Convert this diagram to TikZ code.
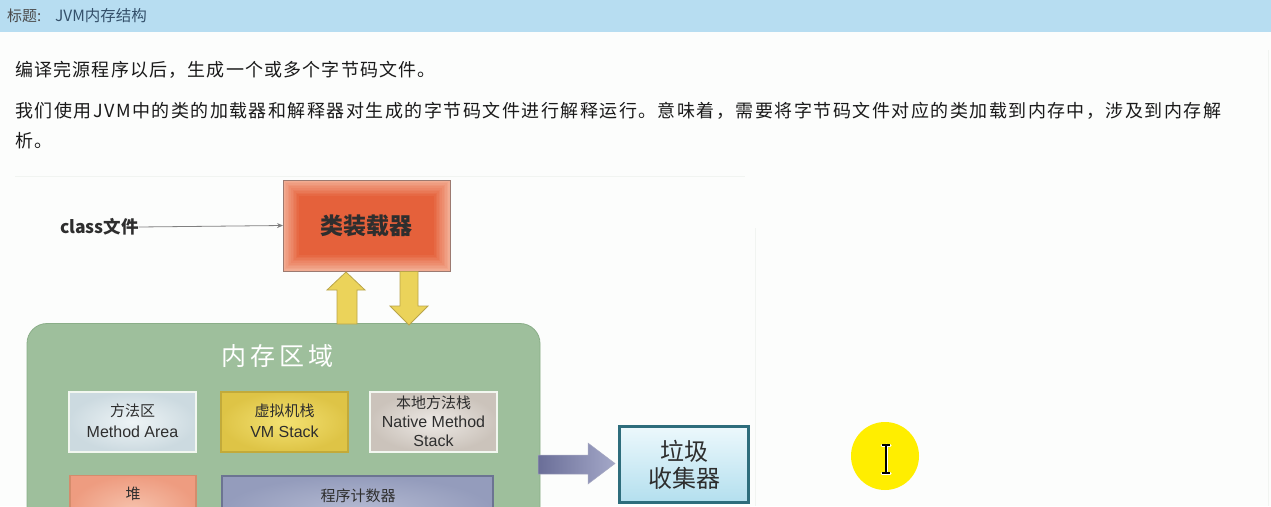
\documentclass[tikz,border=0pt]{standalone}
\usepackage{fontspec}
\setmainfont{Noto Sans CJK SC}
\newfontfamily\cjkbody[LetterSpace=6.5]{Noto Sans CJK SC}
\newfontfamily\cjkbodyb[LetterSpace=8.2]{Noto Sans CJK SC}
\newfontfamily\lat{Liberation Sans}
\usetikzlibrary{calc,arrows.meta}
\definecolor{pagebg}{HTML}{FCFDFC}
\definecolor{barbg}{HTML}{B7DDF1}
\definecolor{titlegray}{HTML}{4A4A4A}
\definecolor{titleblue}{HTML}{34506A}
\definecolor{bodytext}{HTML}{1A1A1A}
\definecolor{frameline}{HTML}{F1F4F1}
\definecolor{memgreen}{HTML}{9EBF9C}
\definecolor{memborder}{HTML}{8AAE88}
\definecolor{clin}{HTML}{E5613B}
\definecolor{clout}{HTML}{F2AC92}
\definecolor{clborder}{HTML}{9C7A70}
\definecolor{yarrow}{HTML}{EBD35A}
\definecolor{yarrowd}{HTML}{B9A54A}
\definecolor{main}{HTML}{EEF4F6}
\definecolor{maout}{HTML}{CCDAE0}
\definecolor{whiteb}{HTML}{F2F7F0}
\definecolor{vmin}{HTML}{F3E172}
\definecolor{vmout}{HTML}{DEC446}
\definecolor{vmborder}{HTML}{C2AA3A}
\definecolor{nmin}{HTML}{EDE9E5}
\definecolor{nmout}{HTML}{CBC3BB}
\definecolor{hpin}{HTML}{F6C2AC}
\definecolor{hpout}{HTML}{EE9C80}
\definecolor{hpborder}{HTML}{D48C6C}
\definecolor{pcin}{HTML}{B4BAD2}
\definecolor{pcout}{HTML}{949CBC}
\definecolor{pcborder}{HTML}{6C7492}
\definecolor{bigarrd}{HTML}{6A6E98}
\definecolor{bigarrl}{HTML}{A4A8C8}
\definecolor{gctop}{HTML}{ECF8FC}
\definecolor{gcbot}{HTML}{B3DFEE}
\definecolor{gcborder}{HTML}{2E6D7C}
\definecolor{curyellow}{HTML}{FFEE00}
\definecolor{dtext}{HTML}{2E2E2E}
\begin{document}
\begin{tikzpicture}[x=1pt,y=-1pt,
  inbox/.style={minimum width=127pt,minimum height=60pt,inner sep=0pt,outer sep=0pt,align=center,text=dtext},
  cjkl/.style={font=\fontsize{15}{18}\selectfont},
  latl/.style={font=\lat\fontsize{16}{18}\selectfont},
  bodyline/.style={anchor=west,inner sep=0pt,text=bodytext,font=\cjkbody\fontsize{18}{20}\selectfont}
]
\useasboundingbox (0,0) rectangle (1271,506);
\clip (0,0) rectangle (1271,506);
\fill[pagebg] (0,0) rectangle (1271,506);
% title bar
\fill[barbg] (0,0) rectangle (1271,32);
\node[anchor=west,inner sep=0pt,text=titlegray,font=\fontsize{15}{16}\selectfont] (ttl) at (7,16) {标题:};
\node[anchor=west,inner sep=0pt,text=titleblue,font=\fontsize{15.5}{16}\selectfont] (ttl2) at (55,16) {JVM内存结构};
% body text
\node[bodyline] (l1) at (15,70) {编译完源程序以后，生成一个或多个字节码文件。};
\node[bodyline,font=\cjkbodyb\fontsize{18}{20}\selectfont] (l2) at (15,111) {我们使用JVM中的类的加载器和解释器对生成的字节码文件进行解释运行。意味着，需要将字节码文件对应的类加载到内存中，涉及到内存解};
\node[bodyline] (l3) at (15,141) {析。};
% faint frame of the embedded image
\draw[frameline,line width=0.8pt] (15,176.5) -- (745,176.5);
\draw[frameline,line width=0.8pt] (755,228) -- (755,506);
\draw[frameline,line width=0.8pt] (1268,50) -- (1268,506);
% class file and class loader
\node[anchor=west,inner sep=0pt,outer sep=0pt,text=dtext,font=\bfseries\fontsize{17.5}{20}\selectfont] (cf) at (60,227) {class文件};
\node[fill=clout,minimum width=167pt,minimum height=91pt,inner sep=0pt,outer sep=0pt] (cl) at (366.5,225.5) {};
\foreach \i in {1,...,10} {
  \pgfmathsetmacro{\mixv}{\i*10}
  \fill[clin!\mixv!clout] ($(cl.north west)+(1.6*\i,1.6*\i)$) rectangle ($(cl.south east)+(-1.6*\i,-1.6*\i)$);
}
\draw[clborder,line width=0.8pt] (cl.north west) rectangle (cl.south east);
\node[inner sep=0pt,text=dtext,font=\bfseries\fontsize{23}{26}\selectfont] (clt) at (cl.center) {类装载器};
\draw[gray,line width=0.8pt,-{Stealth[length=6pt,width=5pt]}] (cf.east) -- (cl.west);
% memory area
\node[draw=memborder,line width=0.8pt,fill=memgreen,rounded corners=20pt,minimum width=513pt,minimum height=240pt,anchor=north west,inner sep=0pt,outer sep=0pt] (mem) at (27,323.5) {};
\node[text=white,inner sep=0pt,font=\fontsize{25}{28}\selectfont] (memt) at (277,356) {内\hspace{4pt}存\hspace{4pt}区\hspace{4pt}域};
% yellow arrows between loader and memory area
\draw[fill=yarrow,draw=yarrowd,line width=0.8pt,line join=miter]
  (346,272) -- (365,290) -- (357,290) -- (357,324) -- (337,324) -- (337,290) -- (327,290) -- cycle;
\draw[fill=yarrow,draw=yarrowd,line width=0.8pt,line join=miter]
  (400,271.5) -- (418,271.5) -- (418,306) -- (428,306) -- (409,325) -- (390,306) -- (400,306) -- cycle;
% inner boxes
\node[inbox,draw=whiteb,line width=2pt,inner color=main,outer color=maout] (ma) at (132.5,422) {};
\node[cjkl,text=dtext,inner sep=0pt] (mat1) at (132.5,411) {方法区};
\node[latl,text=dtext,inner sep=0pt] (mat2) at (132.5,432) {Method Area};
\node[inbox,draw=vmborder,line width=1.2pt,inner color=vmin,outer color=vmout] (vm) at (284.5,422) {};
\node[cjkl,text=dtext,inner sep=0pt] (vmt1) at (284.5,411) {虚拟机栈};
\node[latl,text=dtext,inner sep=0pt] (vmt2) at (284.5,432) {VM Stack};
\node[inbox,draw=whiteb,line width=2pt,inner color=nmin,outer color=nmout] (nm) at (433.5,422) {};
\node[cjkl,text=dtext,inner sep=0pt] (nmt1) at (433.5,403) {本地方法栈};
\node[latl,text=dtext,inner sep=0pt] (nmt2) at (433.5,422) {Native Method};
\node[latl,text=dtext,inner sep=0pt] (nmt3) at (433.5,440.5) {Stack};
\node[draw=hpborder,line width=1.2pt,inner color=hpin,outer color=hpout,minimum width=126pt,minimum height=70pt,anchor=north west,inner sep=0pt,outer sep=0pt] (hp) at (70,475.5) {};
\node[cjkl,text=dtext,inner sep=0pt] (hpt) at (133,494) {堆};
\node[draw=pcborder,line width=1.2pt,inner color=pcin,outer color=pcout,minimum width=271pt,minimum height=70pt,anchor=north west,inner sep=0pt,outer sep=0pt] (pc) at (222,476) {};
\node[cjkl,text=dtext,inner sep=0pt] (pct) at (358,496) {程序计数器};
% garbage collector
\node[draw=gcborder,line width=3pt,top color=gctop,bottom color=gcbot,minimum width=129pt,minimum height=76pt,inner sep=0pt,outer sep=0pt,align=center,text=dtext,font=\fontsize{24}{27}\selectfont] (gc) at (684,464.5) {垃圾\\收集器};
\path[left color=bigarrd,right color=bigarrl,draw=bigarrd!60,line width=0.5pt]
  (538,455) -- (588,455) -- (588,443) -- (615,463.5) -- (588,484) -- (588,474) -- (538,474) -- cycle;
% highlighted cursor
\node[circle,fill=curyellow,minimum size=68pt,inner sep=0pt] (cur) at (885,456) {};
\draw[white,line width=3pt,line cap=round] (882,445) -- (890,445) (886,445) -- (886,473) (882,473) -- (890,473);
\draw[black,line width=1.3pt] (882,445) -- (890,445) (886,445) -- (886,473) (882,473) -- (890,473);
\end{tikzpicture}
\end{document}
